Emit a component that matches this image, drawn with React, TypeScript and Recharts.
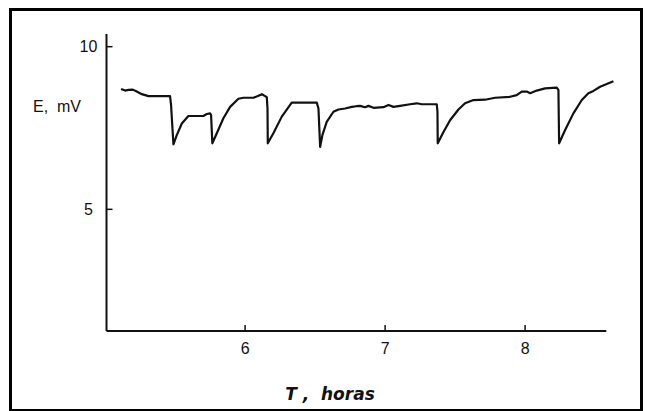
import React from 'react';
import { LineChart, Line, XAxis, YAxis, ReferenceLine } from 'recharts';

const timeH = [
  5.114, 5.143, 5.167, 5.198, 5.226, 5.262, 5.31, 5.464, 5.471, 5.488,
  5.512, 5.548, 5.595, 5.702, 5.726, 5.75, 5.757, 5.766, 5.798, 5.845,
  5.893, 5.952, 5.988, 6.06, 6.095, 6.12, 6.155, 6.16, 6.162, 6.202,
  6.262, 6.333, 6.512, 6.524, 6.536, 6.552, 6.583, 6.631, 6.667, 6.714,
  6.762, 6.795, 6.821, 6.857, 6.881, 6.917, 6.988, 7.024, 7.06, 7.107,
  7.179, 7.226, 7.262, 7.369, 7.374, 7.376, 7.417, 7.464, 7.524, 7.571,
  7.631, 7.714, 7.786, 7.893, 7.94, 7.976, 8.012, 8.036, 8.083, 8.143,
  8.226, 8.238, 8.243, 8.286, 8.345, 8.405, 8.452, 8.488, 8.536, 8.583,
  8.631,
];
const emfMv = [
  8.7, 8.65, 8.67, 8.68, 8.62, 8.54, 8.48, 8.48, 8.21, 7.0,
  7.28, 7.64, 7.87, 7.87, 7.93, 7.95, 7.9, 7.03, 7.34, 7.8,
  8.15, 8.4, 8.43, 8.43, 8.49, 8.54, 8.45, 8.1, 7.03, 7.34,
  7.85, 8.28, 8.28, 8.1, 6.92, 7.28, 7.69, 8.0, 8.07, 8.1,
  8.15, 8.17, 8.18, 8.14, 8.18, 8.12, 8.14, 8.21, 8.15, 8.18,
  8.23, 8.26, 8.23, 8.23, 8.0, 7.03, 7.38, 7.74, 8.07, 8.26,
  8.36, 8.37, 8.43, 8.46, 8.51, 8.62, 8.62, 8.57, 8.65, 8.72,
  8.74, 8.67, 7.03, 7.44, 7.95, 8.36, 8.57, 8.64, 8.77, 8.85,
  8.94,
];
const xTicks = [6, 7, 8];
const yTicks = [5, 10];

const data = timeH.map((t, i) => ({ t, e: emfMv[i] }));

const FONT = '"Liberation Sans", Arial, sans-serif';
const TITLE_FONT = '"DejaVu Sans", sans-serif';

const YTick = (props: any) => (
  <text x={props.x} y={props.y} textAnchor="middle" dominantBaseline="central" fontFamily={FONT} fontSize={16} fill="#111">
    {props.payload.value}
  </text>
);
const XTick = (props: any) => (
  <text x={props.x} y={props.y} textAnchor="middle" dominantBaseline="central" fontFamily={FONT} fontSize={16} fill="#111">
    {props.payload.value}
  </text>
);

export default function App() {
  return (
    <div style={{ position: 'absolute', left: 0, top: 0, width: 647, height: 411, background: '#fff' }}>
      <div
        style={{
          position: 'absolute',
          left: 9,
          top: 8,
          width: 634,
          height: 404,
          boxSizing: 'border-box',
          border: '3.5px solid #000',
        }}
      />
      <div style={{ position: 'absolute', left: 0, top: 0 }}>
        <LineChart width={647} height={411} data={data} margin={{ top: 34, right: 32.3, bottom: 50, left: 46.5 }}>
          <XAxis
            type="number"
            dataKey="t"
            domain={[5.01, 8.64]}
            ticks={xTicks}
            axisLine={false}
            tickLine={{ stroke: '#111', strokeWidth: 1.5 }}
            tickSize={-6}
            tickMargin={23}
            height={30}
            tick={<XTick />}
            allowDataOverflow
            label={{
              content: () => (
                <text x={330} y={400} textAnchor="middle" fontFamily={TITLE_FONT} fontSize={17} fontWeight="bold" fontStyle="italic" fill="#111" style={{ whiteSpace: 'pre' }}>
                  {'T ,  horas'}
                </text>
              ),
            }}
          />
          <YAxis
            type="number"
            domain={[1.26, 10.39]}
            ticks={yTicks}
            width={60}
            axisLine={{ stroke: '#111', strokeWidth: 2 }}
            tickLine={{ stroke: '#111', strokeWidth: 1.5 }}
            tickSize={-6}
            tickMargin={24}
            tick={<YTick />}
            allowDataOverflow
            label={{
              content: () => (
                <text x={33} y={112} fontFamily={FONT} fontSize={16} fill="#111" style={{ whiteSpace: 'pre' }}>
                  {'E,  mV'}
                </text>
              ),
            }}
          />
          <ReferenceLine
            segment={[{ x: 5.01, y: 1.26 }, { x: 8.58, y: 1.26 }]}
            stroke="#111"
            strokeWidth={2}
            ifOverflow="visible"
          />
          <Line
            type="linear"
            dataKey="e"
            stroke="#111"
            strokeWidth={2.2}
            dot={false}
            strokeLinejoin="round"
            isAnimationActive={false}
          />
        </LineChart>
      </div>
    </div>
  );
}
